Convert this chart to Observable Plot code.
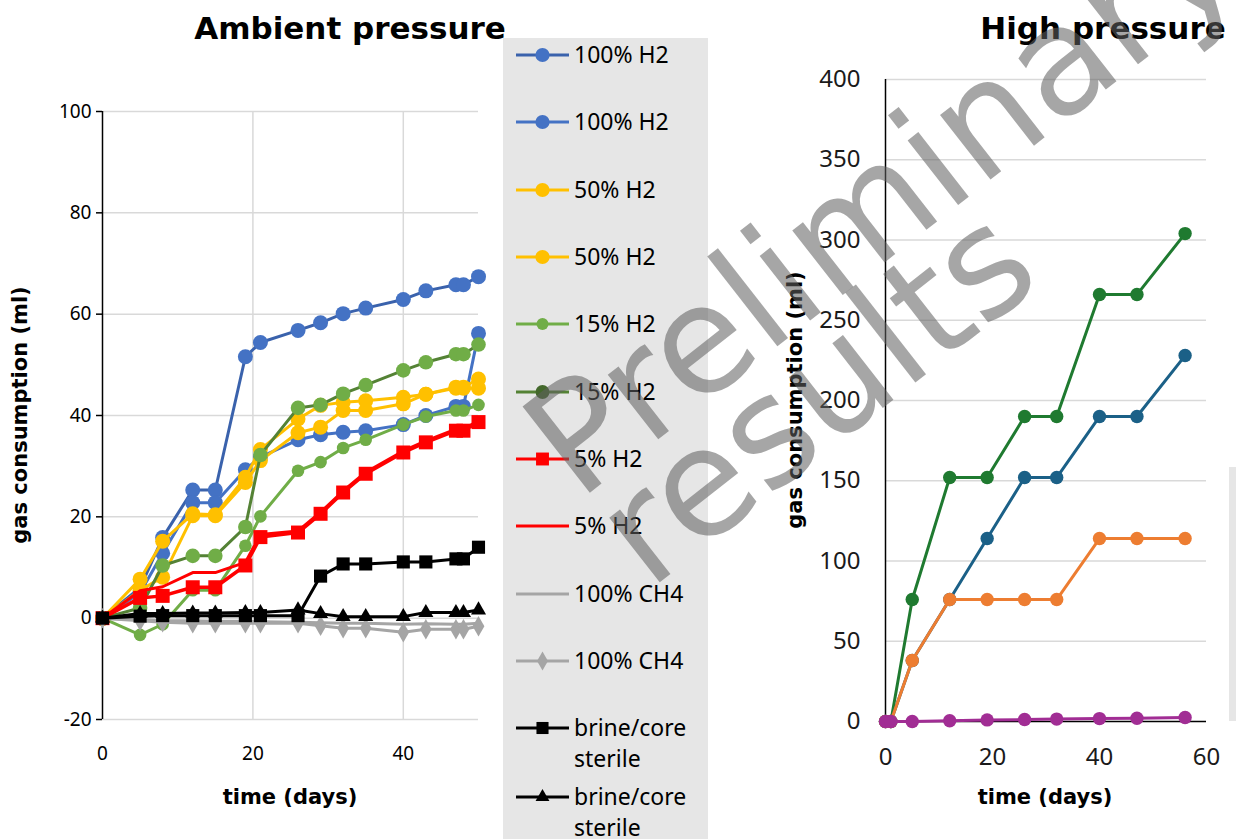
<!DOCTYPE html>
<html>
<head>
<meta charset="utf-8">
<script src="https://cdn.jsdelivr.net/npm/d3@7"></script>
<script src="https://cdn.jsdelivr.net/npm/@observablehq/plot@0.6"></script>
<style>
  html, body { margin: 0; padding: 0; background: #fff; }
  #root { position: relative; width: 1236px; height: 839px; overflow: hidden; background: #fff; }
  .abs { position: absolute; }
  #left svg text { font-family: "Noto Sans", sans-serif !important; font-size: 19px !important; fill: #000; }
  #right svg text { font-family: "Noto Sans", sans-serif !important; font-size: 24px !important; fill: #1a1a1a; }
  .lbl { position: absolute; font-family: "DejaVu Sans", sans-serif; font-weight: bold; color: #000; white-space: nowrap; transform: translate(-50%, -50%); }
  .title { font-size: 31px; }
  .axlbl { font-size: 21px; }
  .legend { position: absolute; left: 503px; top: 38px; width: 205px; height: 810px; background: #E6E6E6; }
  .legitem { position: absolute; left: 0; font-family: "Noto Sans", sans-serif; font-size: 23px; color: #000; }
  .wm { position: absolute; font-family: "DejaVu Sans", sans-serif; color: rgba(96,96,96,0.56); white-space: nowrap; transform: translate(-50%, -50%) rotate(-38deg); pointer-events: none; line-height: 1; }
</style>
</head>
<body>
<div id="root">
  <div id="left" class="abs" style="left:0;top:0"></div>
  <div class="legend" id="legend"></div>
  <div id="right" class="abs" style="left:780px;top:0"></div>
  <div class="abs" style="left:1229px;top:467px;width:10px;height:254px;background:#E6E6E6"></div>
  <div class="lbl title" style="left:350px;top:28px">Ambient pressure</div>
  <div class="lbl title" style="left:1103px;top:28px">High pressure</div>
  <div class="lbl axlbl" style="left:20px;top:415px;transform:translate(-50%,-50%) rotate(-90deg)">gas consumption (ml)</div>
  <div class="lbl axlbl" style="left:795px;top:400px;transform:translate(-50%,-50%) rotate(-90deg)">gas consumption (ml)</div>
  <div class="lbl axlbl" style="left:290px;top:797px">time (days)</div>
  <div class="lbl axlbl" style="left:1045px;top:797px">time (days)</div>
  <div class="wm" style="left:880px;top:200px;font-size:150px">Preliminary</div>
  <div class="wm" style="left:815px;top:395px;font-size:150px">results</div>
</div>
<script>
// ---------- Ambient pressure data ----------
const tAmb = [0, 5, 8, 12, 15, 19, 21, 26, 29, 32, 35, 40, 43, 47, 48, 50];
const ambH2_100a = [0, 6.0, 15.9, 25.3, 25.3, 51.6, 54.4, 56.8, 58.3, 60.1, 61.2, 62.9, 64.6, 65.8, 65.8, 67.4];
const ambH2_100b = [0, 5.0, 12.8, 22.8, 22.8, 29.3, 31.8, 35.2, 36.2, 36.7, 37.0, 38.2, 40.0, 41.8, 41.8, 56.2];
const ambH2_50a  = [0, 7.7, 15.2, 20.6, 20.4, 27.8, 33.3, 39.3, 42.0, 42.6, 42.9, 43.6, 44.2, 45.6, 45.6, 47.2];
const ambH2_50b  = [0, 5.5, 8.1, 20.2, 20.2, 26.8, 31.1, 36.6, 37.7, 41.0, 41.0, 42.3, 44.2, 45.4, 45.4, 45.4];
const ambH2_15a  = [0, -3.3, -1.2, 5.5, 5.5, 14.3, 20.1, 29.1, 30.8, 33.6, 35.2, 38.2, 39.8, 41.0, 41.0, 42.1];
const ambH2_15b  = [0, 2.0, 10.4, 12.3, 12.3, 18.0, 32.2, 41.5, 42.1, 44.3, 46.0, 48.9, 50.5, 52.1, 52.1, 54.0];
const ambH2_5a   = [0, 4.0, 4.4, 6.1, 6.1, 10.4, 16.0, 16.9, 20.6, 24.8, 28.5, 32.7, 34.7, 37.0, 37.0, 38.7];
const ambH2_5b   = [0, 5.4, 6.2, 9.0, 9.0, 11.0, 16.5, 17.2, 20.9, 25.1, 28.8, 33.0, 35.0, 37.3, 37.3, 39.0];
const ambCH4a    = [0, -0.3, -0.5, -0.5, -0.6, -0.6, -0.7, -0.8, -0.9, -1.0, -1.0, -1.2, -1.1, -1.2, -1.2, -1.0];
const ambCH4b    = [0, -0.5, -0.8, -1.0, -1.0, -1.0, -1.0, -1.0, -1.5, -2.0, -2.0, -2.8, -2.2, -2.2, -2.2, -1.6];
const ambSterA   = [0, 0.4, 0.5, 0.5, 0.5, 0.5, 0.5, 0.5, 8.3, 10.7, 10.7, 11.1, 11.1, 11.7, 11.7, 14.0];
const ambSterB   = [0, 0.9, 0.9, 1.0, 1.0, 1.1, 1.1, 1.6, 0.9, 0.3, 0.3, 0.3, 1.1, 1.1, 1.1, 1.6];
const ambYTicks  = [-20, 0, 20, 40, 60, 80, 100];
const ambXTicks  = [0, 20, 40];

// ---------- High pressure data ----------
const tHigh = [0, 1, 5, 12, 19, 26, 32, 40, 47, 56];
const highGreen  = [0, 0, 76, 152, 152, 190, 190, 266, 266, 304];
const highBlue   = [0, 0, 38, 76, 114, 152, 152, 190, 190, 228];
const highOrange = [0, 0, 38, 76, 76, 76, 76, 114, 114, 114];
const highPurple = [0, 0, 0, 0.5, 1.0, 1.2, 1.5, 1.8, 2.0, 2.5];
const highYTicks = [0, 50, 100, 150, 200, 250, 300, 350, 400];
const highXTicks = [0, 20, 40, 60];

// ---------- series styling ----------
const ambSeries = [
  {label: "100% H2", v: ambH2_100a, line: "#3A62AC", fill: "#4472C4", sym: "circle", r: 7.5, sw: 3},
  {label: "100% H2", v: ambH2_100b, line: "#4472C4", fill: "#4472C4", sym: "circle", r: 7.5, sw: 3},
  {label: "50% H2",  v: ambH2_50a,  line: "#FFC000", fill: "#FFC000", sym: "circle", r: 7.5, sw: 3},
  {label: "50% H2",  v: ambH2_50b,  line: "#FFC000", fill: "#FFC000", sym: "circle", r: 7.5, sw: 3},
  {label: "15% H2",  v: ambH2_15a,  line: "#70AD47", fill: "#70AD47", sym: "circle", r: 6.3, sw: 3},
  {label: "15% H2",  v: ambH2_15b,  line: "#548235", fill: "#70AD47", sym: "circle", r: 7.3, sw: 3},
  {label: "5% H2",   v: ambH2_5a,   line: "#FF0000", fill: "#FF0000", sym: "square", r: 7.9, sw: 3.5},
  {label: "5% H2",   v: ambH2_5b,   line: "#FF0000", fill: null,      sym: null,     r: 0,   sw: 3},
  {label: "100% CH4",v: ambCH4a,    line: "#A5A5A5", fill: null,      sym: null,     r: 0,   sw: 3},
  {label: "100% CH4",v: ambCH4b,    line: "#A5A5A5", fill: "#A5A5A5", sym: "diamond", r: 6.2, sw: 3},
  {label: "brine/core sterile", v: ambSterA, line: "#000000", fill: "#000000", sym: "square", r: 7.4, sw: 3},
  {label: "brine/core sterile", v: ambSterB, line: "#000000", fill: "#000000", sym: "triangle", r: 5.6, sw: 3}
];
const highSeries = [
  {v: highGreen,  color: "#1F7A30"},
  {v: highBlue,   color: "#1B6087"},
  {v: highOrange, color: "#ED7D31"},
  {v: highPurple, color: "#A12D94"}
];

// ---------- Left chart ----------
const leftMarks = [
  Plot.gridY(ambYTicks, {stroke: "#D9D9D9", strokeOpacity: 1, strokeWidth: 1.5}),
  Plot.gridX([20, 40], {stroke: "#D9D9D9", strokeOpacity: 1, strokeWidth: 1.5}),
  Plot.axisY(ambYTicks, {tickSize: 6, tickPadding: 5, stroke: "#000", strokeWidth: 1.5, label: null, tickFormat: d => String(d)}),
  Plot.axisX(ambXTicks, {tickSize: 0, tickPadding: 27, label: null, tickFormat: d => String(d)}),
  Plot.ruleX([0], {stroke: "#000", strokeWidth: 1.5})
];
for (const s of ambSeries) {
  const rows = tAmb.map((t, i) => ({t, v: s.v[i]}));
  leftMarks.push(Plot.line(rows, {x: "t", y: "v", stroke: s.line, strokeWidth: s.sw, curve: "linear"}));
  if (s.sym) leftMarks.push(Plot.dot(rows, {x: "t", y: "v", symbol: s.sym, r: s.r, fill: s.fill, stroke: "none"}));
}
const leftPlot = Plot.plot({
  width: 500, height: 839,
  marginLeft: 102, marginRight: 22, marginTop: 111, marginBottom: 120,
  x: {domain: [0, 50], axis: null},
  y: {domain: [-20, 100], axis: null},
  style: {background: "transparent", overflow: "visible"},
  marks: leftMarks
});
document.getElementById("left").appendChild(leftPlot);

// ---------- Right chart ----------
const rightMarks = [
  Plot.gridY(highYTicks.filter(d => d > 0), {stroke: "#D9D9D9", strokeOpacity: 1, strokeWidth: 1.5}),
  Plot.axisY(highYTicks, {tickSize: 0, tickPadding: 25, label: null, tickFormat: d => String(d)}),
  Plot.axisX(highXTicks, {tickSize: 0, tickPadding: 26, label: null, tickFormat: d => String(d)}),
  Plot.ruleX([0], {stroke: "#000", strokeWidth: 1.5}),
  Plot.ruleY([0], {stroke: "#000", strokeWidth: 1.5})
];
for (const s of highSeries) {
  const rows = tHigh.map((t, i) => ({t, v: s.v[i]}));
  rightMarks.push(Plot.line(rows, {x: "t", y: "v", stroke: s.color, strokeWidth: 3}));
  rightMarks.push(Plot.dot(rows, {x: "t", y: "v", r: 6.7, fill: s.color, stroke: "none"}));
}
const rightPlot = Plot.plot({
  width: 456, height: 839,
  marginLeft: 105, marginRight: 30, marginTop: 79, marginBottom: 118,
  x: {domain: [0, 60], axis: null},
  y: {domain: [0, 400], axis: null},
  style: {background: "transparent", overflow: "visible"},
  marks: rightMarks
});
document.getElementById("right").appendChild(rightPlot);

// ---------- Legend ----------
const legendY = [55, 122, 190, 257, 324, 392, 459, 526, 594, 661, 728, 797];
const legend = document.getElementById("legend");
const symGen = {circle: d3.symbolCircle, square: d3.symbolSquare, triangle: d3.symbolTriangle, diamond: d3.symbolDiamond};
ambSeries.forEach((s, i) => {
  const y = legendY[i] - 38;
  const svg = d3.select(legend).append("svg")
    .attr("width", 70).attr("height", 24)
    .style("position", "absolute").style("left", "10px").style("top", (y - 12) + "px");
  svg.append("line").attr("x1", 3).attr("x2", 56).attr("y1", 12).attr("y2", 12)
    .attr("stroke", s.line).attr("stroke-width", 3);
  if (s.sym) {
    svg.append("path").attr("transform", "translate(29.5,12)")
      .attr("d", d3.symbol(symGen[s.sym], Math.PI * s.r * s.r * (s.sym === "circle" ? 0.9 : 0.85))())
      .attr("fill", i === 5 ? "#43682B" : s.fill);
  }
  const parts = s.label === "brine/core sterile" ? ["brine/core", "sterile"] : [s.label];
  parts.forEach((p, k) => {
    const div = document.createElement("div");
    div.className = "legitem";
    div.textContent = p;
    div.style.left = "71px";
    div.style.top = (y - 17 + k * 31) + "px";
    legend.appendChild(div);
  });
});
</script>
</body>
</html>
